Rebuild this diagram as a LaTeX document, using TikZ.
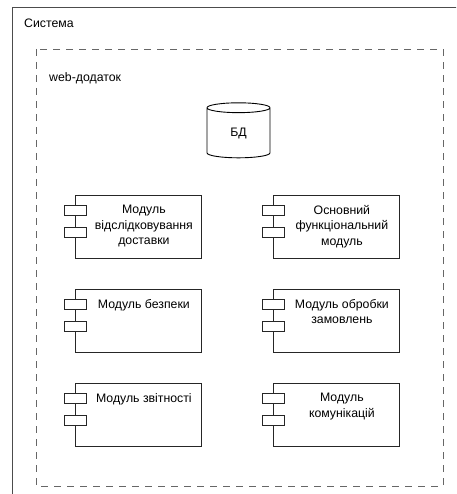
\documentclass[tikz,border=0pt]{standalone}
\usepackage{fontspec}
\setmainfont{Liberation Sans}
\usetikzlibrary{shapes.geometric,calc}

\tikzset{
  frame/.style={draw=black!70, line width=0.8pt},
  webframe/.style={draw=black!60, line width=0.9pt, dash pattern=on 7pt off 6pt},
  title/.style={anchor=base west, inner sep=0pt, font=\fontsize{12.3}{15.5}\selectfont},
  module/.style={draw=black!85, line width=0.8pt, minimum width=126pt, minimum height=63pt, inner sep=0pt, anchor=north west},
  port/.style={draw=black!85, fill=white, line width=0.8pt, minimum width=22pt, minimum height=10pt, inner sep=0pt},
  caption/.style={anchor=north, inner sep=0pt, align=center, font=\fontsize{12.3}{15.5}\selectfont},
  db/.style={cylinder, shape border rotate=90, draw=black, line width=0.9pt, aspect=0.6,
             minimum width=63pt, minimum height=55pt, inner sep=0pt, font=\fontsize{12.3}{15.5}\selectfont}
}

\begin{document}
\begin{tikzpicture}[x=1pt, y=-1pt]
			\useasboundingbox (0,0) rectangle (456,494);
			\clip (0,0) rectangle (456,494);
			
			% Define frames
			\draw[frame] (12,7) rectangle (480,520);
			\node[title] (sys) at (24,28) {Система};
			\draw[webframe] (36,49) rectangle (443,486);
			\node[title] (web) at (49,82) {web-додаток};
			
			% Define database
			\node[db] (bd) at (238.5,133) {БД};
			
			% Define modules
			\node[module] (track) at (75,195) {};
			\node[module] (core) at (273,195) {};
			\node[module] (safety) at (75,289) {};
			\node[module] (orders) at (273,289) {};
			\node[module] (report) at (75,383) {};
			\node[module] (comm) at (273,383) {};
			
			% Draw ports
			\foreach \m in {track,core,safety,orders,report,comm} {
				\node[port] (\m-p1) at ($(\m.north west)+(0,15.5)$) {};
				\node[port] (\m-p2) at ($(\m.north west)+(0,37)$) {};
			}
			
			% Draw captions
			\node[caption] (track-t) at ($(track.north)+(5.5,10)$) {Модуль\\відслідковування\\доставки};
			\node[caption] (core-t) at ($(core.north)+(5.5,10)$) {Основний\\функціональний\\модуль};
			\node[caption] (safety-t) at ($(safety.north)+(5.5,10)$) {Модуль безпеки};
			\node[caption] (orders-t) at ($(orders.north)+(5.5,10)$) {Модуль обробки\\замовлень};
			\node[caption] (report-t) at ($(report.north)+(5.5,10)$) {Модуль звітності};
			\node[caption] (comm-t) at ($(comm.north)+(5.5,10)$) {Модуль\\комунікацій};
		\end{tikzpicture}
\end{document}
